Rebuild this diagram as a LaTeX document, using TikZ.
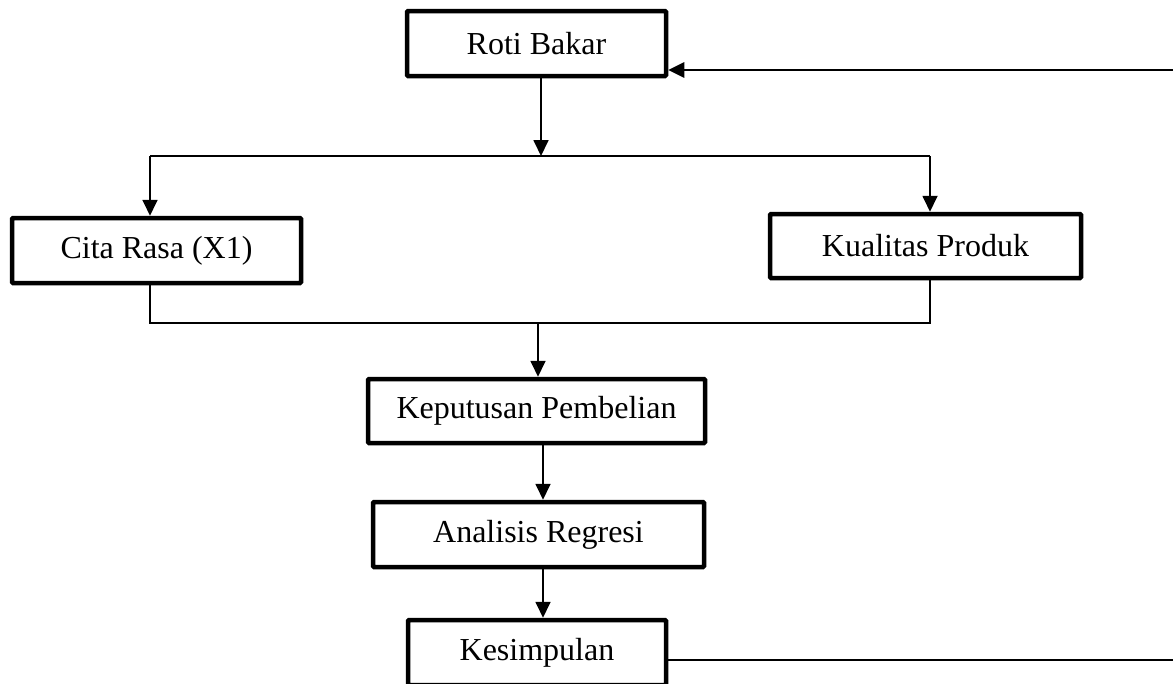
\documentclass[tikz,border=0pt]{standalone}
\usepackage{fontspec}
\setmainfont{Liberation Serif}
\usetikzlibrary{arrows.meta}
\begin{document}
\begin{tikzpicture}[x=1pt,y=-1pt,
  box/.style={draw, line width=4.5pt, rounded corners=1pt, inner sep=0pt,
    font=\fontsize{32}{38}\selectfont},
  conn/.style={line width=1.8pt},
  arr/.style={conn, -{Triangle[length=16pt,width=15pt]}}]
\useasboundingbox (0,0) rectangle (1173,683);
\clip (0,0) rectangle (1173,683);
\fill[white] (0,0) rectangle (1173,683);
\node[box, minimum width=259pt, minimum height=65pt] (roti) at (536.5,43.5) {Roti Bakar};
\node[box, minimum width=289pt, minimum height=65pt] (cita) at (156.5,250.5) {Cita Rasa (X1)};
\node[box, minimum width=311pt, minimum height=64pt] (kual) at (925.5,246) {Kualitas Produk};
\node[box, minimum width=337pt, minimum height=64pt] (kep) at (536.5,411) {Keputusan Pembelian};
\node[box, minimum width=331pt, minimum height=65pt] (ana) at (538.5,534.5) {Analisis Regresi};
\node[box, minimum width=258pt, minimum height=65pt] (kes) at (537,652.5) {Kesimpulan};
\coordinate (s1) at (541,156);
\coordinate (sl) at (150,156);
\coordinate (sr) at (930,156);
\coordinate (m1) at (538,323);
\coordinate (ml) at (150,323);
\coordinate (mr) at (930,323);
\coordinate (br) at (1190,660);
\coordinate (tr) at (1190,70);
\draw[arr] (roti.south -| s1) -- (s1);
\draw[conn] (sl) -- (sr);
\draw[arr] (sl) -- (sl |- cita.north);
\draw[arr] (sr) -- (sr |- kual.north);
\draw[conn] (ml |- cita.south) -- (ml) -- (mr) -- (mr |- kual.south);
\draw[arr] (m1) -- (m1 |- kep.north);
\draw[arr] (543,0 |- kep.south) -- (543,0 |- ana.north);
\draw[arr] (543,0 |- ana.south) -- (543,0 |- kes.north);
\draw[conn] (kes.east |- br) -- (br);
\draw[arr, line width=2.8pt] (tr) -- (roti.east |- tr);
\end{tikzpicture}
\end{document}
